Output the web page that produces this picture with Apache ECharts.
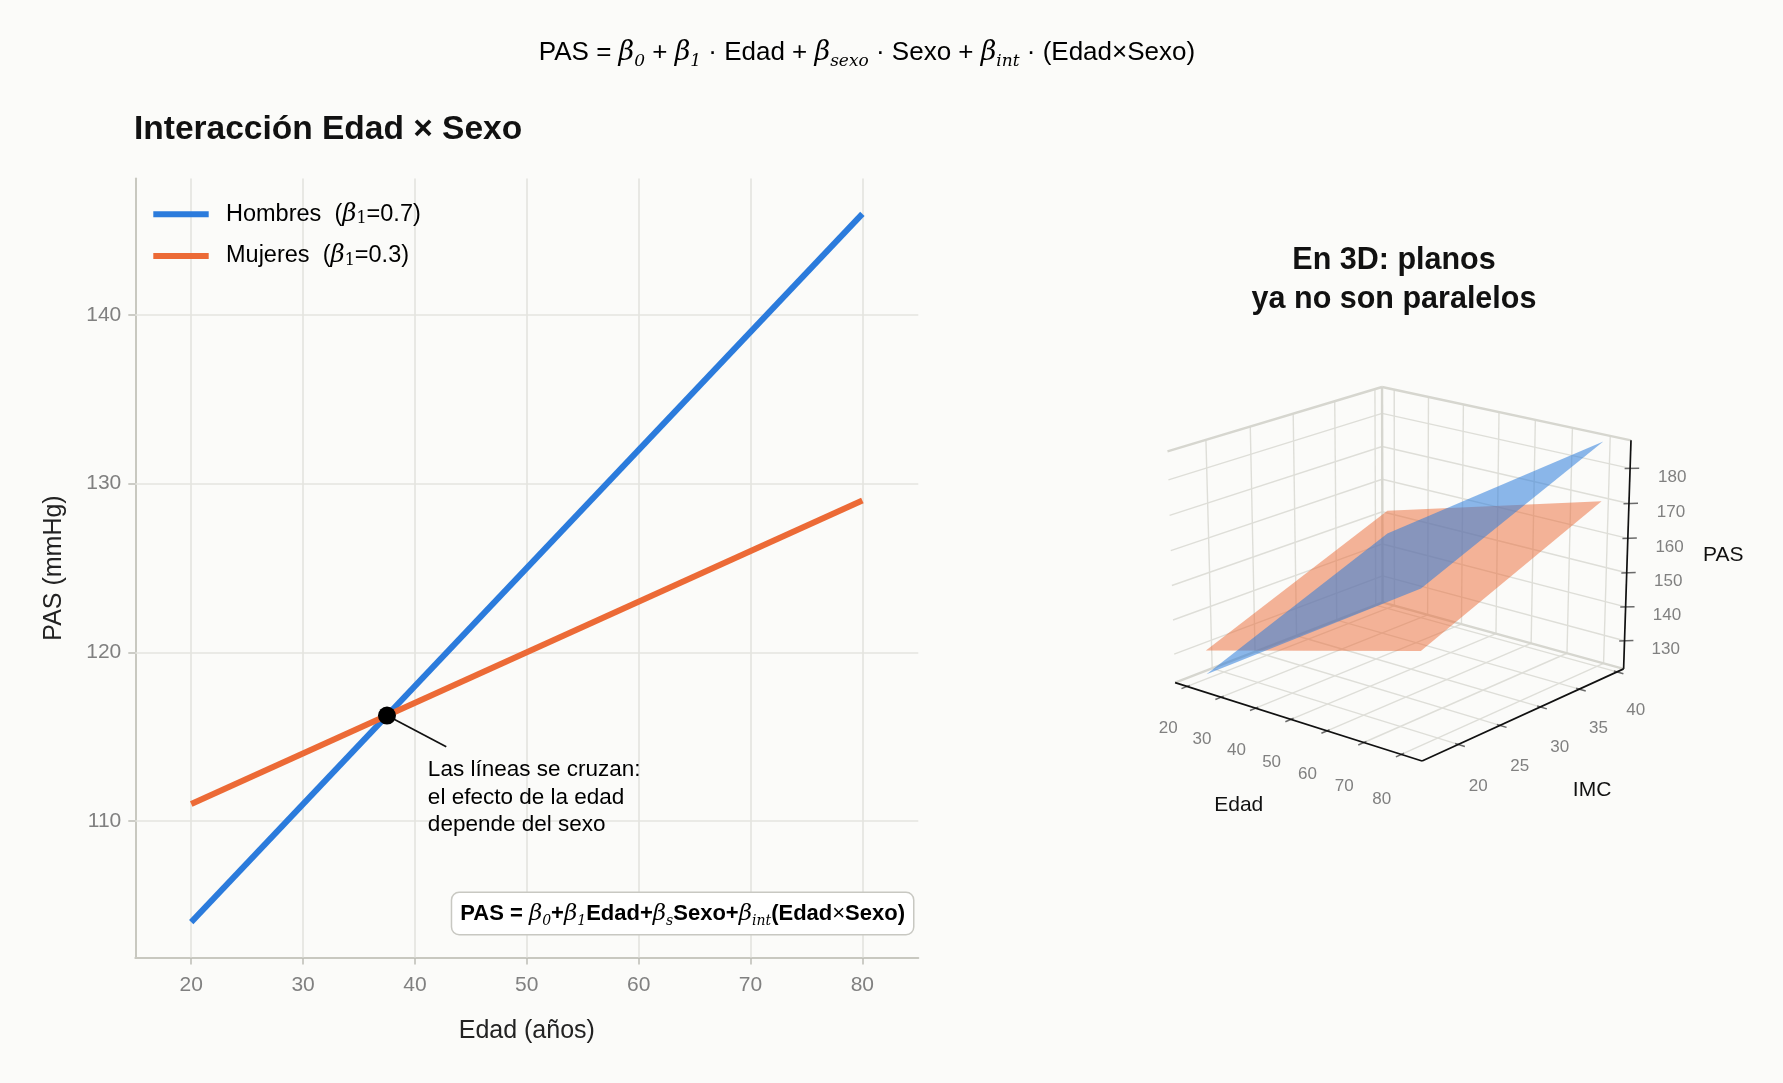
<!DOCTYPE html>
<html><head><meta charset="utf-8">
<script src="https://cdn.jsdelivr.net/npm/echarts@6/dist/echarts.min.js"></script>
<style>html,body{margin:0;padding:0;background:#fbfbf9;}#chart{width:1783px;height:1083px;}</style>
</head><body><div id="chart"></div>
<script>
// ---------------- data: 2D panel ----------------
const edad = [20, 80];
const pasHombres = [104, 146];
const pasMujeres = [111, 129];
const seriesNames = ['Hombres', 'Mujeres'];
const betaEdad = ['0.7', '0.3'];
const xTicks = [20, 30, 40, 50, 60, 70, 80];
const yTicks = [110, 120, 130, 140];
const xRange = [15, 85];
const yRange = [101.9, 148.1];
const cruce = [37.5, 116.25];
const flechaAnot = [[37.5, 116.25], [42.8, 114.4]];
const textoAnot = [41.2, 113.8];
const anotacion = 'Las líneas se cruzan:\nel efecto de la edad\ndepende del sexo';

// ---------------- data: 3D panel ----------------
const edad3d = [20, 80];
const imc3d = [18, 40];
const pasHombres3d = [[123, 145], [165, 187]]; // [edad idx][imc idx]
const pasMujeres3d = [[130, 152], [148, 170]];
const edadTicks3d = [20, 30, 40, 50, 60, 70, 80];
const imcTicks3d = [20, 25, 30, 35, 40];
const pasTicks3d = [130, 140, 150, 160, 170, 180];
const edadLim3d = [16.4, 85.4];
const imcLim3d = [15.8, 40.9];
const pasLim3d = [121.6, 187.9];

// ---------------- style ----------------
const FONT = "'Liberation Sans', Arial, Helvetica, sans-serif";
const SERIF = "'DejaVu Serif', serif";
const BG = '#fbfbf9';
const C_H = '#2b7bdc', C_M = '#ec6a36';
const seriesColors = [C_H, C_M];
const GRID_C = '#e4e4df';
const GRID3D_C = '#deded8';

// ---------------- 3D projection (matplotlib-like perspective) ----------------
const VIEW = { elev: 20, azim: -50, dist: 10, aspect: [4, 4, 3.3] };
const proj3 = (function () {
  const a = VIEW.aspect, nrm = Math.hypot(a[0], a[1], a[2]);
  const k = 1.8294640721620434 * 25 / 24 / nrm;
  const A = a.map(v => v * k);
  const el = VIEW.elev * Math.PI / 180, az = VIEW.azim * Math.PI / 180;
  const n = [Math.cos(el) * Math.cos(az), Math.cos(el) * Math.sin(az), Math.sin(el)];
  const r = [-Math.sin(az), Math.cos(az), 0];
  const u = [-Math.sin(el) * Math.cos(az), -Math.sin(el) * Math.sin(az), Math.cos(el)];
  const dot = (p, q) => p[0] * q[0] + p[1] * q[1] + p[2] * q[2];
  return function (E, I, P) {
    const q = [
      ((E - edadLim3d[0]) / (edadLim3d[1] - edadLim3d[0]) - 0.5) * A[0],
      ((I - imcLim3d[0]) / (imcLim3d[1] - imcLim3d[0]) - 0.5) * A[1],
      ((P - pasLim3d[0]) / (pasLim3d[1] - pasLim3d[0]) - 0.5) * A[2]
    ];
    const d = VIEW.dist - dot(q, n);
    return [dot(q, r) / d, dot(q, u) / d];
  };
})();
const [E0, E1] = edadLim3d, [I0, I1] = imcLim3d, [P0, P1] = pasLim3d;
const dE = E1 - E0, dI = I1 - I0, dP = P1 - P0;

// projected bounds of the box
const corners = [];
[E0, E1].forEach(e => [I0, I1].forEach(i => [P0, P1].forEach(p => corners.push(proj3(e, i, p)))));
const sxMin = Math.min(...corners.map(c => c[0])), sxMax = Math.max(...corners.map(c => c[0]));
const syMin = Math.min(...corners.map(c => c[1])), syMax = Math.max(...corners.map(c => c[1]));

// segments: [E1,I1,P1,E2,I2,P2,kind]  kind 0 grid, 1 pane edge, 2 axis, 3 tick
const segs3d = [];
edadTicks3d.forEach(e => {
  segs3d.push([e, I0, P0, e, I1, P0, 0]);
  segs3d.push([e, I1, P0, e, I1, P1, 0]);
  segs3d.push([e, I0 - 0.025 * dI, P0, e, I0 + 0.012 * dI, P0, 3]);
});
imcTicks3d.forEach(i => {
  segs3d.push([E0, i, P0, E1, i, P0, 0]);
  segs3d.push([E0, i, P0, E0, i, P1, 0]);
  segs3d.push([E1 - 0.012 * dE, i, P0, E1 + 0.025 * dE, i, P0, 3]);
});
pasTicks3d.forEach(p => {
  segs3d.push([E0, I0, p, E0, I1, p, 0]);
  segs3d.push([E0, I1, p, E1, I1, p, 0]);
  segs3d.push([E1 - 0.012 * dE, I1 - 0.012 * dI, p, E1 + 0.02 * dE, I1 + 0.02 * dI, p, 3]);
});
// pane edges
segs3d.push([E0, I0, P1, E0, I1, P1, 1]);
segs3d.push([E0, I1, P1, E1, I1, P1, 1]);
segs3d.push([E0, I1, P0, E0, I1, P1, 1]);
segs3d.push([E0, I0, P0, E0, I1, P0, 1]);
segs3d.push([E0, I1, P0, E1, I1, P0, 1]);
// axis lines
segs3d.push([E0, I0, P0, E1, I0, P0, 2]);
segs3d.push([E1, I0, P0, E1, I1, P0, 2]);
segs3d.push([E1, I1, P0, E1, I1, P1, 2]);
const segStyle = [
  { stroke: GRID3D_C, lineWidth: 1.4 },
  { stroke: '#d6d6cf', lineWidth: 2.4 },
  { stroke: '#111', lineWidth: 1.7 },
  { stroke: '#6a6a6a', lineWidth: 1.5 }
];

// labels
const labels3d = [];
edadTicks3d.forEach(e => labels3d.push({ p: [e, I0 - 0.089 * dI, P0 - 0.15 * dP], t: String(e), k: 'tick' }));
imcTicks3d.forEach(i => labels3d.push({ p: [E1 + 0.077 * dE, i, P0 - 0.15 * dP], t: String(i), k: 'tick' }));
pasTicks3d.forEach(p => labels3d.push({ p: [E1 + 0.098 * dE, I1 + 0.087 * dI, p - 0.04 * dP], t: String(p), k: 'tick' }));
labels3d.push({ p: [(E0 + E1) / 2, I0 - 0.25 * dI, P0 - 0.262 * dP], t: 'Edad', k: 'name' });
labels3d.push({ p: [E1 + 0.25 * dE, (I0 + I1) / 2, P0 - 0.25 * dP], t: 'IMC', k: 'name' });
labels3d.push({ p: [E1 + 0.224 * dE, I1 + 0.199 * dI, (P0 + P1) / 2], t: 'PAS', k: 'name' });

// planes
const planes3d = [
  { vals: pasMujeres3d, color: 'rgba(236,106,54,0.50)' },
  { vals: pasHombres3d, color: 'rgba(43,123,220,0.54)' }
];

function px(api, E, I, P) { return api.coord(proj3(E, I, P)); }

// ---------------- rich text ----------------
const richHeader = {
  t: { fontSize: 26, fontFamily: FONT, color: '#555', lineHeight: 34 },
  b: { fontSize: 27, fontFamily: SERIF, fontStyle: 'italic', color: '#555', lineHeight: 34 },
  s: { fontSize: 17, fontFamily: SERIF, fontStyle: 'italic', color: '#555', verticalAlign: 'bottom', lineHeight: 22 }
};
const header = '{t|PAS = }{b|β}{s|0}{t| + }{b|β}{s|1}{t| · Edad + }{b|β}{s|sexo}{t| · Sexo + }{b|β}{s|int}{t| · (Edad×Sexo)}';

const richBox = {
  t: { fontSize: 22, fontWeight: 'bold', fontFamily: FONT, color: '#111', lineHeight: 28 },
  b: { fontSize: 23, fontFamily: SERIF, fontStyle: 'italic', color: '#111', lineHeight: 28 },
  s: { fontSize: 14, fontFamily: SERIF, fontStyle: 'italic', color: '#111', verticalAlign: 'bottom', lineHeight: 19 },
  m: { fontSize: 22, fontFamily: FONT, color: '#111', lineHeight: 28 }
};
const boxText = '{t|PAS = }{b|β}{s|0}{t|+}{b|β}{s|1}{t|Edad+}{b|β}{s|s}{t|Sexo+}{b|β}{s|int}{t|(Edad}{m|×}{t|Sexo)}';

const richLegend = {
  n: { fontSize: 23.5, fontFamily: FONT, color: '#111', lineHeight: 26 },
  b: { fontSize: 24.5, fontFamily: SERIF, fontStyle: 'italic', color: '#111', lineHeight: 26 },
  s: { fontSize: 16, fontFamily: SERIF, color: '#111', verticalAlign: 'bottom', lineHeight: 18 }
};
const legendItems = [];
seriesNames.forEach((name, i) => {
  const cy = 214.3 + i * 41.7;
  legendItems.push({ type: 'rect', z: 100, shape: { x: 153.3, y: cy - 3, width: 55.4, height: 6 }, style: { fill: seriesColors[i] } });
  legendItems.push({ type: 'text', z: 100, x: 226, y: cy, style: { text: '{n|' + name + '  (}{b|β}{s|1}{n|=' + betaEdad[i] + ')}', rich: richLegend, align: 'left', verticalAlign: 'middle' } });
});

const chart = echarts.init(document.getElementById('chart'), null, { renderer: 'canvas' });

const option = {
  backgroundColor: BG,
  animation: false,
  textStyle: { fontFamily: FONT },
  graphic: {
    z: 100,
    elements: [
      { type: 'text', z: 100, x: 867, y: 53, style: { text: header, rich: richHeader, align: 'center', verticalAlign: 'middle' } },
      { type: 'text', z: 100, x: 134, y: 130, style: { text: 'Interacción Edad × Sexo', fontSize: 33.5, fontWeight: 'bold', fontFamily: FONT, fill: '#111', align: 'left', verticalAlign: 'middle' } },
      { type: 'text', z: 100, x: 1394, y: 280, style: { text: 'En 3D: planos\nya no son paralelos', fontSize: 30.5, lineHeight: 39, fontWeight: 'bold', fontFamily: FONT, fill: '#111', align: 'center', verticalAlign: 'middle' } },
      { type: 'text', z: 100, x: 913, y: 913.5, style: { text: boxText, rich: richBox, align: 'right', verticalAlign: 'middle', backgroundColor: '#ffffff', borderColor: '#c8c8c2', borderWidth: 1.5, borderRadius: 7, padding: [7, 8, 6, 8] } }
    ].concat(legendItems)
  },
  grid: [
    { left: 135.3, top: 178.5, width: 783, height: 779, containLabel: false },
    { left: 1167.5, top: 387, width: 463.5, height: 374, containLabel: false }
  ],
  xAxis: [
    {
      type: 'value', gridIndex: 0, min: xRange[0], max: xRange[1],
      name: 'Edad (años)', nameLocation: 'middle', nameGap: 61,
      nameTextStyle: { fontSize: 25, color: '#222', fontFamily: FONT },
      axisLine: { show: true, onZero: false, lineStyle: { color: '#c8c8c0', width: 2 } },
      axisTick: { show: true, length: 7, customValues: xTicks, lineStyle: { color: '#bdbdb5', width: 1.5 } },
      axisLabel: { customValues: xTicks, fontSize: 21, color: '#808080', margin: 17, fontFamily: FONT,
        formatter: v => xTicks.includes(v) ? String(v) : '' },
      splitLine: { show: false }
    },
    { type: 'value', gridIndex: 1, min: sxMin, max: sxMax, show: false, splitLine: { show: false } }
  ],
  yAxis: [
    {
      type: 'value', gridIndex: 0, min: yRange[0], max: yRange[1],
      name: 'PAS (mmHg)', nameLocation: 'middle', nameGap: 69,
      nameTextStyle: { fontSize: 25, color: '#222', fontFamily: FONT },
      axisLine: { show: true, onZero: false, lineStyle: { color: '#c8c8c0', width: 2 } },
      axisTick: { show: true, length: 7, customValues: yTicks, lineStyle: { color: '#bdbdb5', width: 1.5 } },
      axisLabel: { customValues: yTicks, fontSize: 21, color: '#808080', margin: 14, fontFamily: FONT,
        formatter: v => yTicks.includes(v) ? String(v) : '' },
      splitLine: { show: false }
    },
    { type: 'value', gridIndex: 1, min: syMin, max: syMax, show: false, splitLine: { show: false } }
  ],
  series: [
    {
      type: 'line', name: 'rejilla', xAxisIndex: 0, yAxisIndex: 0, z: 1, silent: true,
      data: [[xTicks[0], yTicks[0]]], symbol: 'none', lineStyle: { opacity: 0 },
      markLine: {
        z: 1, silent: true, symbol: 'none', animation: false, label: { show: false },
        lineStyle: { color: GRID_C, width: 1.6, type: 'solid' },
        emphasis: { disabled: true },
        data: xTicks.map(v => ({ xAxis: v })).concat(yTicks.map(v => ({ yAxis: v })))
      }
    },
    {
      type: 'line', name: 'Hombres', xAxisIndex: 0, yAxisIndex: 0, z: 3,
      data: edad.map((e, i) => [e, pasHombres[i]]),
      symbol: 'none', color: C_H, itemStyle: { color: C_H }, lineStyle: { width: 6, color: C_H, cap: 'butt' }
    },
    {
      type: 'line', name: 'Mujeres', xAxisIndex: 0, yAxisIndex: 0, z: 4,
      data: edad.map((e, i) => [e, pasMujeres[i]]),
      symbol: 'none', color: C_M, itemStyle: { color: C_M }, lineStyle: { width: 6, color: C_M, cap: 'butt' }
    },
    {
      type: 'line', name: 'flecha', xAxisIndex: 0, yAxisIndex: 0, z: 5, silent: true,
      data: flechaAnot, symbol: 'none', lineStyle: { width: 1.7, color: '#111' }
    },
    {
      type: 'scatter', name: 'cruce', xAxisIndex: 0, yAxisIndex: 0, z: 6, silent: true,
      data: [cruce], symbolSize: 18, itemStyle: { color: '#000', opacity: 1 }
    },
    {
      type: 'scatter', name: 'anotacion', xAxisIndex: 0, yAxisIndex: 0, z: 6, silent: true,
      data: [textoAnot], symbolSize: 1, itemStyle: { color: 'rgba(0,0,0,0)', opacity: 1 },
      label: { show: true, position: [0, 0], align: 'left', verticalAlign: 'top', formatter: anotacion,
        fontSize: 22.5, lineHeight: 27.3, color: '#000', fontFamily: FONT }
    },
    // ---- 3D panel ----
    {
      type: 'custom', name: 'rejilla3d', coordinateSystem: 'cartesian2d', xAxisIndex: 1, yAxisIndex: 1,
      z: 2, silent: true, data: segs3d,
      renderItem: (params, api) => {
        const a = px(api, api.value(0), api.value(1), api.value(2));
        const b = px(api, api.value(3), api.value(4), api.value(5));
        const st = segStyle[api.value(6)];
        return { type: 'line', shape: { x1: a[0], y1: a[1], x2: b[0], y2: b[1] }, style: { stroke: st.stroke, lineWidth: st.lineWidth } };
      }
    },
    {
      type: 'custom', name: 'planos3d', coordinateSystem: 'cartesian2d', xAxisIndex: 1, yAxisIndex: 1,
      z: 3, silent: true, data: planes3d.map((p, i) => [i]),
      renderItem: (params, api) => {
        const pl = planes3d[params.dataIndex];
        const v = pl.vals;
        const pts = [
          px(api, edad3d[0], imc3d[0], v[0][0]),
          px(api, edad3d[1], imc3d[0], v[1][0]),
          px(api, edad3d[1], imc3d[1], v[1][1]),
          px(api, edad3d[0], imc3d[1], v[0][1])
        ];
        return { type: 'polygon', shape: { points: pts }, style: { fill: pl.color, stroke: null } };
      }
    },
    {
      type: 'custom', name: 'etiquetas3d', coordinateSystem: 'cartesian2d', xAxisIndex: 1, yAxisIndex: 1,
      z: 4, silent: true, data: labels3d.map(l => l.p),
      renderItem: (params, api) => {
        const l = labels3d[params.dataIndex];
        const p = px(api, l.p[0], l.p[1], l.p[2]);
        const isName = l.k === 'name';
        return {
          type: 'text', x: p[0], y: p[1],
          style: { text: l.t, fill: isName ? '#111' : '#808080', fontSize: isName ? 21 : 17, fontFamily: FONT, align: 'center', verticalAlign: 'middle' }
        };
      }
    }
  ]
};
chart.setOption(option);
</script></body></html>
